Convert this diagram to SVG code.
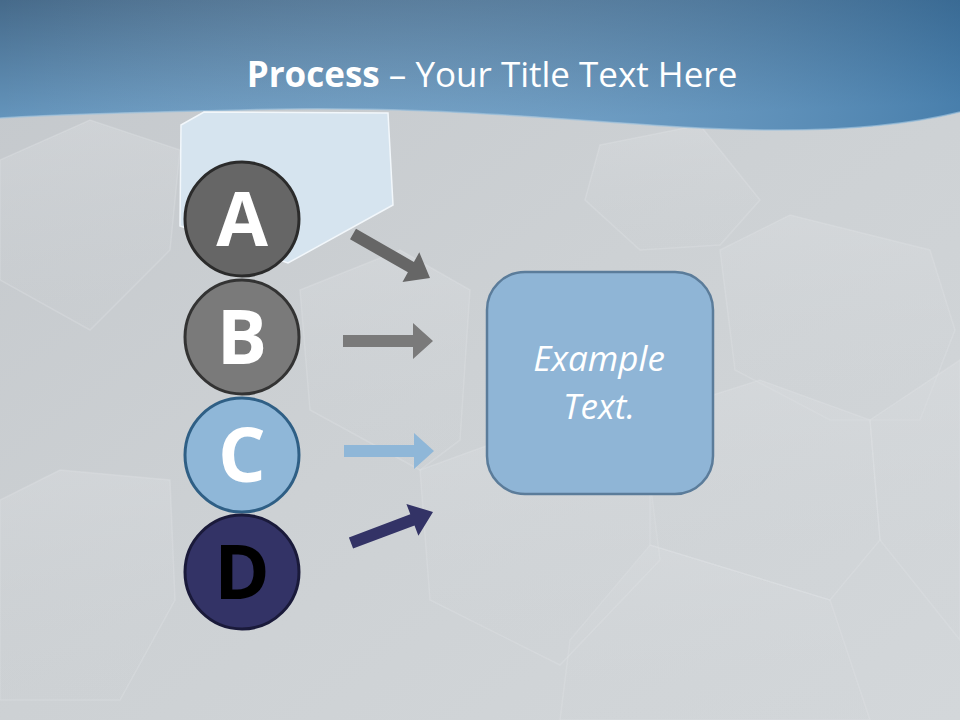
<svg xmlns="http://www.w3.org/2000/svg" width="960" height="720" viewBox="0 0 960 720">
  <defs>
    <linearGradient id="bg" x1="0" y1="0" x2="1" y2="1">
      <stop offset="0" stop-color="#c4c8cc"/>
      <stop offset="0.5" stop-color="#cdd1d4"/>
      <stop offset="1" stop-color="#d3d7da"/>
    </linearGradient>
    <linearGradient id="hdr" x1="0" y1="0" x2="0.3" y2="1">
      <stop offset="0" stop-color="#466a8a"/>
      <stop offset="1" stop-color="#6a9dc6"/>
    </linearGradient>
    <linearGradient id="hdr2" x1="0" y1="0" x2="1" y2="0">
      <stop offset="0" stop-color="#ffffff" stop-opacity="0"/>
      <stop offset="1" stop-color="#1f5a8c" stop-opacity="0.45"/>
    </linearGradient>
    <linearGradient id="hexfill" x1="0" y1="0" x2="0" y2="1">
      <stop offset="0" stop-color="#dadde0" stop-opacity="0.45"/>
      <stop offset="1" stop-color="#cfd3d6" stop-opacity="0.1"/>
    </linearGradient>
  </defs>
  <style>
    .hex { fill: url(#hexfill); stroke: #e0e3e6; stroke-opacity: 0.35; stroke-width: 1.5; }
    .title { font-family: "Open Sans", "Liberation Sans", sans-serif; font-size: 35px; fill: #ffffff; }
    .letter { font-family: "Open Sans", "Liberation Sans", sans-serif; font-weight: bold; font-size: 75px; text-anchor: middle; }
    .circ { stroke-width: 3; }
    .boxtext { font-family: "Open Sans", "Liberation Sans", sans-serif; font-style: italic; font-size: 35px; fill: #ffffff; text-anchor: middle; }
  </style>

  <!-- background -->
  <rect x="0" y="0" width="960" height="720" fill="url(#bg)"/>
  <g id="background-hexes">
    <polygon class="hex" points="720,250 790,215 930,250 955,330 920,420 830,420 735,370"/>
    <polygon class="hex" points="570,640 650,545 830,600 870,720 560,720"/>
    <polygon class="hex" points="600,145 700,125 760,200 720,245 640,250 585,200"/>
    <polygon class="hex" points="0,160 90,120 180,150 170,250 90,330 0,280"/>
    <polygon class="hex" points="0,500 60,470 170,480 175,600 120,700 0,700"/>
    <polygon class="hex" points="420,470 530,430 650,480 660,560 560,665 430,600"/>
    <polygon class="hex" points="650,415 760,380 870,420 880,540 830,600 650,545"/>
    <polygon class="hex" points="870,420 960,360 960,640 880,540"/>
    <polygon class="hex" points="300,290 400,250 470,290 460,440 420,470 310,410"/>
  </g>

  <!-- header band -->
  <path d="M0,0 H960 V112 C880,132 780,132 700,128 C560,120 420,104 240,110 C150,112 60,114 0,118 Z" fill="url(#hdr)"/>
  <path d="M0,0 H960 V112 C880,132 780,132 700,128 C560,120 420,104 240,110 C150,112 60,114 0,118 Z" fill="url(#hdr2)"/>
  <path d="M0,118 C60,114 150,112 240,110 C420,104 560,120 700,128 C780,132 880,132 960,112" fill="none" stroke="#9cc0dc" stroke-width="1.5" stroke-opacity="0.7"/>

  <g id="title">
    <text class="title" x="492" y="87" text-anchor="middle"><tspan font-weight="bold">Process</tspan> – Your Title Text Here</text>
  </g>

  <!-- light blue hex piece behind A -->
  <g id="highlight-hex">
    <polygon points="181,125 204,112 388,113 393,205 288,263 180,226" fill="#d6e4ef" stroke="#f2f7fb" stroke-width="1.5"/>
  </g>

  <!-- connectors -->
  <g id="connectors">
    <polygon points="356.0,228.8 413.9,261.9 419.3,252.3 430,278 402.5,281.9 407.9,272.3 350.0,239.2" fill="#666666"/>
    <polygon points="343,335 413,335 413,323 433,341 413,359 413,347 343,347" fill="#7a7a7a"/>
    <polygon points="344,445 414,445 414,433 434,451 414,469 414,457 344,457" fill="#8fb7d8"/>
    <polygon points="348.9,537.4 410.3,514.2 406.4,503.9 433,512 418.4,535.7 414.5,525.4 353.1,548.6" fill="#333366"/>
  </g>

  <g id="node-a">
    <circle class="circ" cx="242" cy="219" r="57" fill="#666666" stroke="#2b2b2b"/>
    <text class="letter" x="242" y="246" fill="#ffffff">A</text>
  </g>
  <g id="node-b">
    <circle class="circ" cx="242" cy="337" r="57" fill="#7a7a7a" stroke="#333333"/>
    <text class="letter" x="242" y="364" fill="#ffffff">B</text>
  </g>
  <g id="node-c">
    <circle class="circ" cx="242" cy="455" r="57" fill="#8fb7d8" stroke="#2f5f85"/>
    <text class="letter" x="242" y="482" fill="#ffffff">C</text>
  </g>
  <g id="node-d">
    <circle class="circ" cx="242" cy="572" r="57" fill="#333366" stroke="#1a1a3a"/>
    <text class="letter" x="242" y="599" fill="#000000">D</text>
  </g>

  <g id="node-example">
    <rect x="487" y="272" width="226" height="222" rx="38" ry="38" fill="#8fb5d6" stroke="#5b7c9a" stroke-width="2.5"/>
    <text class="boxtext" x="599" y="371">Example</text>
    <text class="boxtext" x="599" y="419">Text.</text>
  </g>
</svg>
